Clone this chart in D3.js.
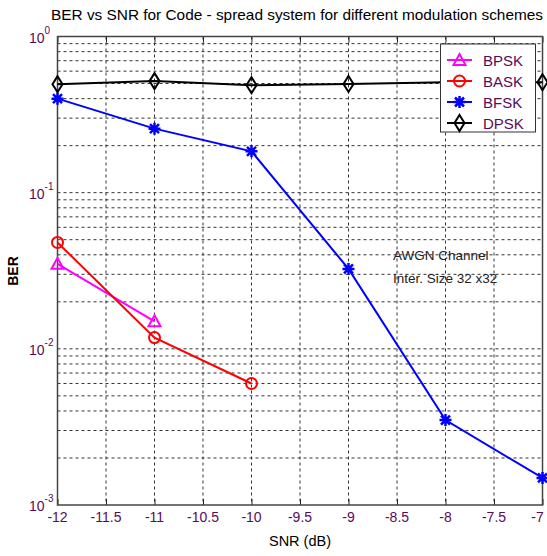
<!DOCTYPE html>
<html lang="en">
  <head>
    <meta charset="UTF-8" />
    <title>BER vs SNR</title>
    <style>
      body {
        margin: 0;
        background-color: #fff;
      }
      svg {
        display: block;
        font-family: Arial, "Liberation Sans", sans-serif;
      }
      .grid line {
        stroke: #333;
        stroke-width: 1;
        stroke-dasharray: 3, 3;
      }
      .tick-label {
        fill: #5a0a5a;
        font-size: 14px;
      }
    </style>
  </head>
  <body>
    <div class="container"></div>
    <script src="https://d3js.org/d3.v7.min.js"></script>
    <script>
      const snr = [-12, -11, -10, -9, -8, -7];
      const bpsk = [0.035, 0.015];
      const bask = [0.048, 0.0118, 0.006];
      const bfsk = [0.4, 0.257, 0.184, 0.0325, 0.0035, 0.00149];
      const dpsk = [0.495, 0.518, 0.488, 0.497, 0.51, 0.51];
      const xTicks = [-12, -11.5, -11, -10.5, -10, -9.5, -9, -8.5, -8, -7.5, -7];
      const yExponents = [0, -1, -2, -3];
      const seriesNames = ["BPSK", "BASK", "BFSK", "DPSK"];

      const w = 547,
        h = 556;
      const pLeft = 57.5,
        pRight = 542.5,
        pTop = 36.5,
        pBottom = 505;

      const svg = d3
        .select(".container")
        .append("svg")
        .attr("width", w)
        .attr("height", h);

      const xScale = d3.scaleLinear().domain([-12, -7]).range([pLeft, pRight]);
      const yScale = d3.scaleLog().domain([1e-3, 1]).range([pBottom, pTop]);

      // grid: every 0.5 dB and every log minor step
      const minor = [];
      [-3, -2, -1].forEach(e => {
        for (let k = 1; k < 10; k++) minor.push(k * Math.pow(10, e));
      });

      const grid = svg.append("g").attr("class", "grid");
      grid
        .selectAll("line.gx")
        .data(xTicks.slice(1, -1))
        .enter()
        .append("line")
        .attr("x1", d => xScale(d))
        .attr("x2", d => xScale(d))
        .attr("y1", pTop)
        .attr("y2", pBottom);
      grid
        .selectAll("line.gy")
        .data(minor.slice(1))
        .enter()
        .append("line")
        .attr("x1", pLeft)
        .attr("x2", pRight)
        .attr("y1", d => yScale(d))
        .attr("y2", d => yScale(d));

      // axes
      svg
        .append("g")
        .attr("transform", "translate(0," + pBottom + ")")
        .call(d3.axisBottom(xScale).tickValues(xTicks).tickSize(-6).tickFormat(""))
        .call(g => g.select(".domain").remove())
        .selectAll("line")
        .attr("stroke", "#222");
      svg
        .append("g")
        .attr("transform", "translate(0," + pTop + ")")
        .call(d3.axisTop(xScale).tickValues(xTicks).tickSize(-6).tickFormat(""))
        .call(g => g.select(".domain").remove())
        .selectAll("line")
        .attr("stroke", "#222");

      svg
        .append("rect")
        .attr("x", pLeft)
        .attr("y", pTop)
        .attr("width", pRight - pLeft)
        .attr("height", pBottom - pTop)
        .attr("fill", "none")
        .attr("stroke", "#444")
        .attr("stroke-width", 1.5);

      // last label is pulled in a little so it stays on the page
      svg
        .selectAll("text.xt")
        .data(xTicks)
        .enter()
        .append("text")
        .attr("class", "tick-label")
        .attr("x", (d, i) => (i === xTicks.length - 1 ? xScale(d) - 5 : xScale(d)))
        .attr("y", 522)
        .attr("text-anchor", "middle")
        .text(d => d);

      const yl = svg
        .selectAll("text.yt")
        .data(yExponents)
        .enter()
        .append("text")
        .attr("class", "tick-label")
        .attr("x", 29)
        .attr("y", d => yScale(Math.pow(10, d)) + 6);
      yl.append("tspan").text("10");
      yl.append("tspan")
        .attr("dy", -9)
        .attr("font-size", "10px")
        .text(d => (d === 0 ? "0" : "-" + -d));

      // labels
      svg
        .append("text")
        .attr("x", 297)
        .attr("y", 20)
        .attr("text-anchor", "middle")
        .attr("font-size", "14.5px")
        .attr("textLength", 492)
        .attr("lengthAdjust", "spacingAndGlyphs")
        .text("BER vs SNR for Code - spread system for different modulation schemes");

      svg
        .append("text")
        .attr("x", 300)
        .attr("y", 546)
        .attr("text-anchor", "middle")
        .attr("font-size", "14.5px")
        .text("SNR (dB)");

      svg
        .append("text")
        .attr("transform", "translate(18,271) rotate(-90)")
        .attr("text-anchor", "middle")
        .attr("font-size", "14px")
        .attr("font-weight", "bold")
        .text("BER");

      svg
        .append("text")
        .attr("x", 393)
        .attr("y", 260)
        .attr("font-size", "13.5px")
        .attr("fill", "#222")
        .text("AWGN Channel");
      svg
        .append("text")
        .attr("x", 393)
        .attr("y", 283)
        .attr("font-size", "13.5px")
        .attr("fill", "#222")
        .text("Inter. Size 32 x32");

      // markers
      const markers = {
        BPSK: (g, x, y) =>
          g.append("path")
            .attr("d", "M0,-6L6,5L-6,5Z")
            .attr("transform", "translate(" + x + "," + y + ")")
            .attr("fill", "none")
            .attr("stroke", "#ff00ff")
            .attr("stroke-width", 2),
        BASK: (g, x, y) =>
          g.append("circle")
            .attr("cx", x)
            .attr("cy", y)
            .attr("r", 5.5)
            .attr("fill", "none")
            .attr("stroke", "#ff0000")
            .attr("stroke-width", 2),
        BFSK: (g, x, y) =>
          g.append("path")
            .attr("d", "M-6,0H6M0,-6V6M-4.5,-4.5L4.5,4.5M-4.5,4.5L4.5,-4.5")
            .attr("transform", "translate(" + x + "," + y + ")")
            .attr("stroke", "#0000ff")
            .attr("stroke-width", 2.5),
        DPSK: (g, x, y) =>
          g.append("path")
            .attr("d", "M0,-8L5,0L0,8L-5,0Z")
            .attr("transform", "translate(" + x + "," + y + ")")
            .attr("fill", "none")
            .attr("stroke", "#000")
            .attr("stroke-width", 2)
      };
      const colors = { BPSK: "#ff00ff", BASK: "#ff0000", BFSK: "#0000ff", DPSK: "#000" };
      const values = { BPSK: bpsk, BASK: bask, BFSK: bfsk, DPSK: dpsk };

      const line = d3
        .line()
        .x(d => xScale(d[0]))
        .y(d => yScale(d[1]));

      seriesNames.forEach(name => {
        const pts = values[name].map((v, i) => [snr[i], v]);
        const g = svg.append("g");
        g.append("path")
          .attr("d", line(pts))
          .attr("fill", "none")
          .attr("stroke", colors[name])
          .attr("stroke-width", 2);
        pts.forEach(p => markers[name](g, xScale(p[0]), yScale(p[1])));
      });

      // legend
      const lg = svg.append("g");
      lg.append("rect")
        .attr("x", 440.5)
        .attr("y", 44)
        .attr("width", 95)
        .attr("height", 88)
        .attr("fill", "#fff")
        .attr("stroke", "#333")
        .attr("stroke-width", 1);
      seriesNames.forEach((name, i) => {
        const y = 60 + i * 21;
        lg.append("line")
          .attr("x1", 447)
          .attr("x2", 472)
          .attr("y1", y)
          .attr("y2", y)
          .attr("stroke", colors[name])
          .attr("stroke-width", 2);
        markers[name](lg, 459.5, y);
        lg.append("text")
          .attr("x", 483)
          .attr("y", y + 5.5)
          .attr("font-size", "15px")
          .attr("fill", "#5a0a5a")
          .text(name);
      });
    </script>
  </body>
</html>
